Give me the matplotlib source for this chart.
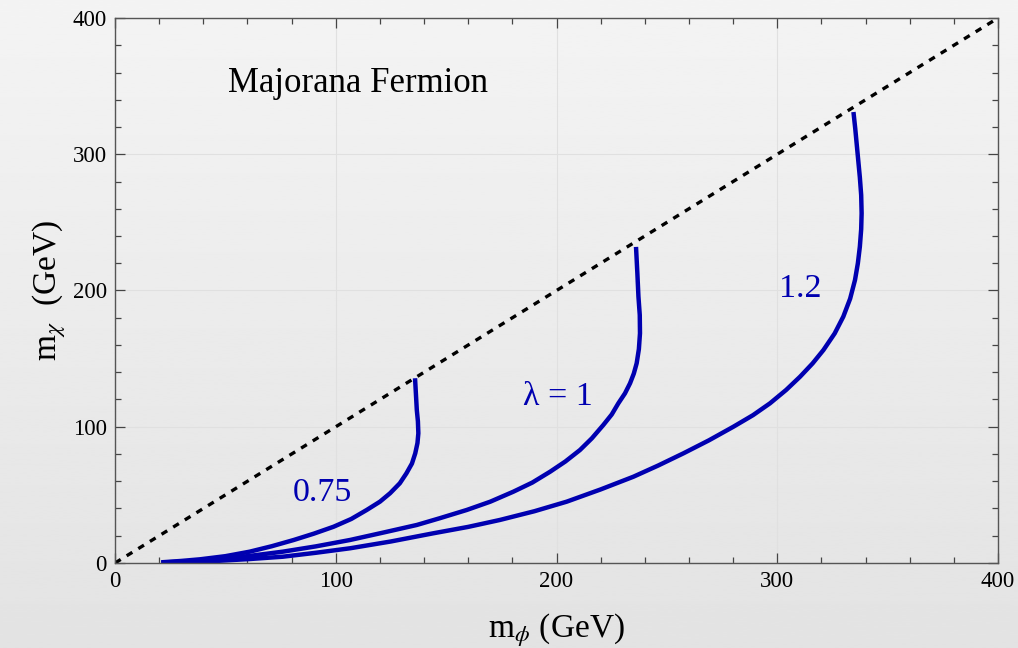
import numpy as np
import matplotlib.pyplot as plt

plt.rcParams['font.family'] = ['Liberation Serif', 'DejaVu Serif']
plt.rcParams['mathtext.fontset'] = 'stix'

# contour points (m_phi, m_chi) in GeV for each coupling
phi_075 = [21, 30, 38.5, 50, 61, 71, 81, 90, 99, 107, 114, 120, 124.6, 129, 132,
           134.5, 136, 137, 137.4, 137.2, 136.7, 136.3, 135.9]
chi_075 = [0.5, 1.5, 2.7, 5, 8.3, 12.3, 16.9, 21.5, 26.6, 32.3, 38.9, 45, 51.2, 58.5,
           65.8, 73, 80.5, 88, 95.2, 104, 112.3, 124, 135.6]

phi_1 = [21, 34, 46, 61, 76, 91, 106.5, 122, 136.7, 147, 159.3, 170, 180.4, 189,
         197.1, 204, 210.6, 216, 221.2, 225, 228, 231, 233.3, 235, 236.3, 237.3,
         237.8, 237.7, 237.1, 236.6, 236]
chi_1 = [0.3, 1.3, 2.7, 5.2, 8.3, 12.2, 16.9, 22.5, 27.9, 32.8, 38.9, 45, 52.3, 59,
         67, 74.5, 82.9, 91.5, 101.3, 109, 117.2, 124.5, 131.9, 139, 146.6, 157,
         168.6, 182, 195.5, 213, 232]

phi_12 = [21, 34, 46, 61, 76, 91, 106.5, 125, 144.2, 160, 174.4, 190, 204.6, 220,
          234.8, 246, 257.5, 269, 280.1, 289, 296.7, 304, 310.3, 316, 320.9, 326,
          329.9, 333, 335.2, 336.5, 337.4, 338.0, 338.2, 338.0, 337.4, 336.7, 336.0,
          335.3, 334.5]
chi_12 = [0.2, 0.8, 1.5, 2.9, 4.6, 7.5, 10.8, 15.8, 21.8, 26.5, 31.6, 38, 45, 54,
          63.3, 71.5, 80.5, 90, 100, 108.5, 117.2, 127, 136.7, 146.5, 156.3, 168.5,
          180.8, 194, 207.7, 220, 232.2, 245, 256.7, 270, 283, 295, 307,
          319, 331]

ticks = [0, 100, 200, 300, 400]
blue = '#0000b0'

fig = plt.figure(figsize=(10.18, 6.48), dpi=100)

# soft vertical gradient behind everything
bg = fig.add_axes([0, 0, 1, 1], zorder=-10)
grad = np.linspace(0.955, 0.89, 256).reshape(-1, 1)
bg.imshow(grad, cmap='gray', vmin=0, vmax=1, aspect='auto', extent=[0, 1, 0, 1])
bg.axis('off')

ax = fig.add_axes([0.1130, 0.1312, 0.8674, 0.8410])
ax.set_facecolor('none')

ax.plot([0, 400], [0, 400], color='black', lw=2.4, linestyle=(0, (2.0, 2.1)))
for xs, ys in [(phi_075, chi_075), (phi_1, chi_1), (phi_12, chi_12)]:
    ax.plot(xs, ys, color=blue, lw=3.2, solid_capstyle='butt', solid_joinstyle='round')

ax.text(93.8, 51.4, '0.75', color=blue, fontsize=24.5, ha='center', va='center')
ax.text(200.7, 121.8, 'λ = 1', color=blue, fontsize=24.5, ha='center', va='center')
ax.text(310.3, 201, '1.2', color=blue, fontsize=24.5, ha='center', va='center')
ax.text(51, 352, 'Majorana Fermion', fontsize=25, ha='left', va='center')

ax.set_xlim(0, 400)
ax.set_ylim(0, 400)
ax.set_xticks(ticks)
ax.set_yticks(ticks)
ax.set_xticks(np.arange(0, 401, 20), minor=True)
ax.set_yticks(np.arange(0, 401, 20), minor=True)
ax.grid(True, which='major', color='#e0e0e0', lw=0.8)
ax.tick_params(which='both', direction='in', top=True, right=True,
               labelsize=16.5, color='#444444', width=0.9)
ax.tick_params(which='major', length=7, pad=6)
ax.tick_params(which='minor', length=4.5)
for s in ax.spines.values():
    s.set_color('#555555')
    s.set_linewidth(1.0)

ax.set_xlabel(r'm$_\phi$ (GeV)', fontsize=24, labelpad=14)
ax.set_ylabel(r'm$_\chi$  (GeV)', fontsize=24, labelpad=3)

fig.savefig('out.png', dpi=100)
